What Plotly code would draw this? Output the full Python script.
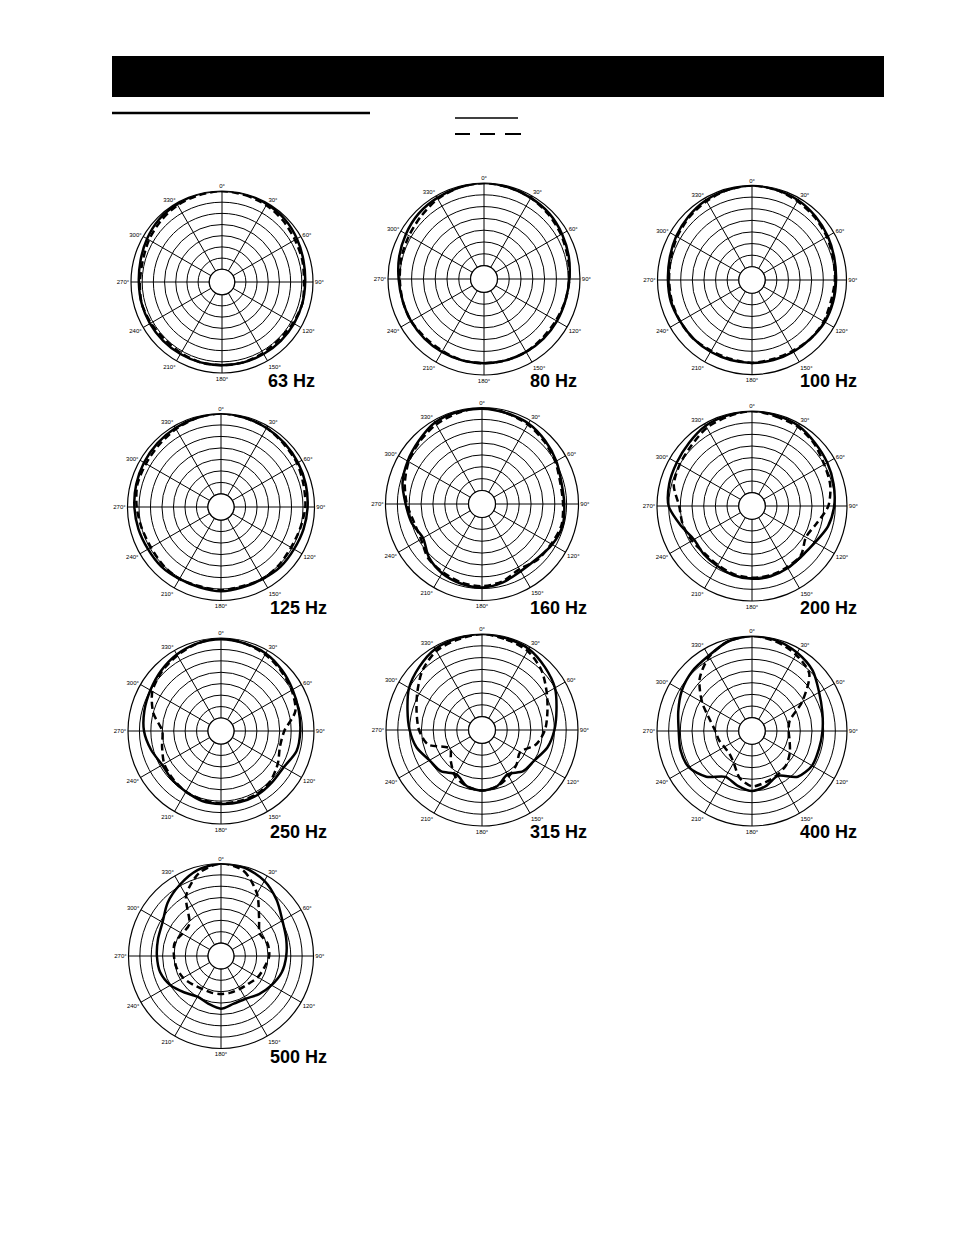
import plotly.graph_objects as go

W, H = 954, 1235

# ---------------- data (dB re. 0 dB at outer circle) ----------------
angles = list(range(0, 360, 15))
freq_labels = ["63 Hz", "80 Hz", "100 Hz", "125 Hz", "160 Hz", "200 Hz",
               "250 Hz", "315 Hz", "400 Hz", "500 Hz"]
angle_ticks = list(range(0, 360, 30))
angle_tick_text = [f"{a}°" for a in angle_ticks]
ring_values = [-30, -25, -20, -15, -10, -5]

solid_63 = [0, 0, -0.5, -1, -2, -3, -3.5, -3.5, -3.5, -3.5, -3.5, -3.5,
            -3.5, -3.5, -3.5, -3.5, -3.5, -3.5, -3.5, -3, -2, -1, -0.5, 0]
dash_63 = [0, -0.5, -1, -2, -3, -3.5, -4, -3.5, -4, -4.5, -4, -3.5,
           -3.5, -3.5, -4, -4.5, -4, -3.5, -4, -4, -3, -2, -1, -0.5]

solid_80 = [0, -0.5, -1, -1.5, -2.5, -3.5, -4.5, -5, -5, -5, -5, -5,
            -5, -5, -5, -5, -5, -5, -4.5, -3.5, -2.5, -1.5, -1, -0.5]
dash_80 = [0, -0.5, -1, -2, -3, -4, -4.5, -5, -5.5, -5.5, -5, -5,
           -5, -5, -5.5, -5.5, -5, -5, -5, -4.5, -4, -3, -1.5, -0.5]

solid_100 = [0, -0.5, -1, -2, -3, -4, -4.5, -4.5, -4.5, -5, -5, -5,
             -5, -5, -5, -5, -5, -4.5, -4.5, -4, -3, -2, -1, -0.5]
dash_100 = [0, -0.5, -1.5, -2.5, -3.5, -4.5, -5, -5.5, -5, -5, -5.5, -5.5,
            -5, -5.5, -5.5, -5, -5, -5, -5, -4.5, -3.5, -2.5, -1.5, -0.5]

solid_125 = [0, -0.5, -1, -1.5, -2, -2.5, -3, -3.5, -4, -4, -4.5, -4.5,
             -4, -4.5, -4.5, -4, -4, -3.5, -3, -2.5, -2, -1.5, -1, -0.5]
dash_125 = [0, -0.5, -1, -2, -2.5, -3.5, -4, -5, -5.5, -5, -4.5, -5,
            -4.5, -5, -4.5, -5, -5.5, -5, -4, -3, -3, -2.5, -1.5, -0.5]

solid_160 = [-0.5, -1, -1.5, -3, -4.5, -6, -6, -5.5, -6.5, -8, -8, -6.5,
             -5.5, -6, -7, -9, -12, -10, -8.5, -6, -4.5, -3, -1, -0.5]
dash_160 = [0, -1, -2, -3.5, -5, -6.5, -6.5, -6, -7, -7.5, -9, -7,
            -6, -6.5, -7.5, -8.5, -11, -11, -9, -7, -5, -3.5, -2, -1]

solid_200 = [0, -0.5, -1, -2.5, -3.5, -4.5, -5.5, -7, -9.5, -10.5, -10, -9.5,
             -9.5, -10, -11, -11.5, -12, -9, -5, -4, -3.5, -2.5, -1, -0.5]
dash_200 = [0, -1, -1.5, -3, -5, -6, -8, -12, -14, -11, -10.5, -10,
            -10, -10.5, -11.5, -12, -11, -10, -9.5, -6, -5, -4, -2, -1]

solid_250 = [-0.5, -1, -1.5, -3, -4.5, -5.5, -6, -6.5, -9, -9, -8.5, -8.5,
             -8.8, -9, -10, -10.5, -11, -9, -7, -6, -5, -3.5, -2, -1]
dash_250 = [0, -1, -2, -3.5, -5, -7, -13, -14, -12, -10, -9, -9,
            -9, -9.5, -10, -11, -12, -14, -15, -10, -6, -4, -2.5, -1]

solid_315 = [0, -0.5, -1, -3, -5, -8, -10, -12, -15, -16, -19, -16,
             -15, -16, -19, -16, -15, -12, -10, -8, -5, -3, -1, -0.5]
dash_315 = [0, -1, -2, -5, -9, -12, -14, -17, -22, -20, -18, -16,
            -15, -16, -18, -22, -25, -17, -14, -12, -9, -5, -2, -1]

solid_400 = [0, -0.5, -2, -4, -7.5, -9.5, -10.5, -11, -11, -13, -18.5, -16.5,
             -15, -16.5, -18, -13, -9.5, -9, -9.3, -8, -6, -4.5, -3.5, -1]
dash_400 = [0, -1, -3, -6, -16, -24, -25, -24, -22, -20, -19, -18,
            -17, -20, -25, -27, -27, -26, -25, -22, -16, -9, -4, -1]

solid_500 = [0, -0.5, -2.5, -6, -9.5, -11, -12, -13, -15, -17, -19, -19,
             -17.5, -19, -20, -18, -15, -13, -12.5, -12, -11, -7.5, -4.5, -1.5]
dash_500 = [0, -2, -9, -17, -21, -19.5, -19.5, -21, -22, -23.5, -24, -24,
            -24, -24, -24, -23, -21.5, -20.5, -20, -19.5, -21, -21, -10, -3]

series_solid = [solid_63, solid_80, solid_100, solid_125, solid_160,
                solid_200, solid_250, solid_315, solid_400, solid_500]
series_dash = [dash_63, dash_80, dash_100, dash_125, dash_160,
               dash_200, dash_250, dash_315, dash_400, dash_500]

# ---------------- layout geometry (pixels) ----------------
centers = [(222, 282), (484, 279), (752, 280),
           (221, 507), (482, 504), (752, 506),
           (221, 731), (482, 730), (752, 731),
           (221, 956)]
radii = [91, 96, 94.5, 93.5, 96.5, 95, 93, 96, 95, 92.5]
label_x = [266, 528, 798, 268, 528, 798, 268, 528, 798, 268]
label_y = [381, 381, 381, 608, 608, 608, 832, 832, 832, 1057]

fig = go.Figure()
layout_polars = {}

for i in range(10):
    pname = "polar" if i == 0 else f"polar{i+1}"
    sub = "polar" if i == 0 else f"polar{i+1}"
    cx, cy = centers[i]
    R = radii[i]
    layout_polars[pname] = dict(
        domain=dict(x=[(cx - R) / W, (cx + R) / W],
                    y=[1 - (cy + R) / H, 1 - (cy - R) / H]),
        hole=0.14,
        bgcolor="white",
        radialaxis=dict(range=[-35, 0], tickvals=ring_values,
                        showticklabels=False, ticks="", showline=False,
                        showgrid=True, gridcolor="black", gridwidth=1),
        angularaxis=dict(rotation=90, direction="clockwise",
                         tickmode="array", tickvals=angle_ticks,
                         ticktext=angle_tick_text, ticks="",
                         tickfont=dict(size=6, family="Liberation Sans", color="black"),
                         showgrid=True, gridcolor="black", gridwidth=1,
                         showline=True, linecolor="black", linewidth=1.2),
    )
    th = angles + [360]
    # inner (hole) circle
    fig.add_trace(go.Scatterpolar(r=[-35] * 73, theta=list(range(0, 365, 5)),
                                  mode="lines", line=dict(color="black", width=1),
                                  subplot=sub, showlegend=False, hoverinfo="skip",
                                  cliponaxis=False))
    fig.add_trace(go.Scatterpolar(r=series_dash[i] + [series_dash[i][0]], theta=th,
                                  mode="lines",
                                  line=dict(color="black", width=2.5, dash="7px,4px",
                                            shape="spline", smoothing=0.8),
                                  subplot=sub, showlegend=False))
    fig.add_trace(go.Scatterpolar(r=series_solid[i] + [series_solid[i][0]], theta=th,
                                  mode="lines",
                                  line=dict(color="black", width=2.5,
                                            shape="spline", smoothing=0.8),
                                  subplot=sub, showlegend=False))

annotations = []
for i, lab in enumerate(freq_labels):
    annotations.append(dict(text=f"<b>{lab}</b>", x=label_x[i] / W, y=1 - label_y[i] / H,
                            xref="paper", yref="paper", xanchor="left", yanchor="middle",
                            showarrow=False,
                            font=dict(size=18, family="Liberation Sans", color="black")))

def px_rect(x0, y0, x1, y1, **kw):
    return dict(type="rect", xref="paper", yref="paper",
                x0=x0 / W, x1=x1 / W, y0=1 - y1 / H, y1=1 - y0 / H, **kw)

def px_line(x0, y0, x1, y1, **kw):
    return dict(type="line", xref="paper", yref="paper",
                x0=x0 / W, x1=x1 / W, y0=1 - y0 / H, y1=1 - y1 / H, **kw)

shapes = [
    px_rect(112, 56, 884, 97, fillcolor="black", line=dict(width=0)),
    px_line(112, 113, 370, 113, line=dict(color="black", width=2.5)),
    px_line(455, 118, 518, 118, line=dict(color="black", width=1.5)),
    px_line(455, 134, 470, 134, line=dict(color="black", width=2)),
    px_line(480, 134, 495, 134, line=dict(color="black", width=2)),
    px_line(505, 134, 521, 134, line=dict(color="black", width=2)),
]

fig.update_layout(width=W, height=H, margin=dict(l=0, r=0, t=0, b=0),
                  paper_bgcolor="white", plot_bgcolor="white",
                  showlegend=False, annotations=annotations, shapes=shapes,
                  **layout_polars)

fig.write_html("out.html", config={"displayModeBar": False},
               post_script="document.body.style.margin='0';")
